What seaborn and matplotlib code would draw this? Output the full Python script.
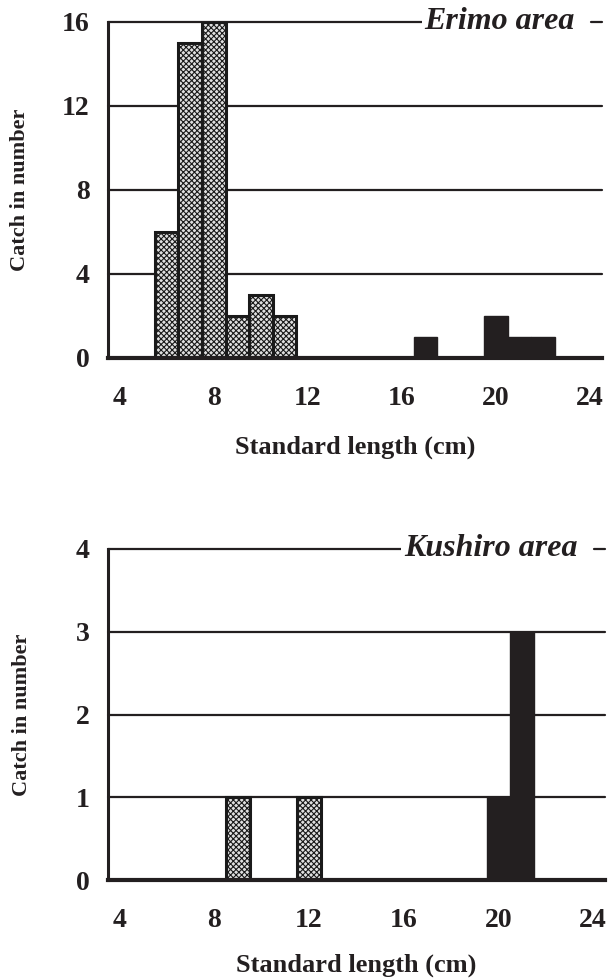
import numpy as np
import pandas as pd
import matplotlib
matplotlib.use("Agg")
import matplotlib.pyplot as plt
import seaborn as sns

# size classes on the x axis (cm)
LENGTHS = list(range(4, 25))
TICK_LABELS = ["4", "8", "12", "16", "20", "24"]

# Erimo area
erimo_small_len = [6, 7, 8, 9, 10, 11]
erimo_small_n = [6, 15, 16, 2, 3, 2]
erimo_large_len = [17, 20, 21, 22]
erimo_large_n = [1, 2, 1, 1]

# Kushiro area
kushiro_small_len = [9, 12]
kushiro_small_n = [1, 1]
kushiro_large_len = [20, 21]
kushiro_large_n = [1, 3]

sns.set_theme(style="white")
plt.rcParams['font.family'] = ['Liberation Serif', 'DejaVu Serif']
plt.rcParams['font.weight'] = 'bold'
plt.rcParams['hatch.color'] = '#333333'
plt.rcParams['hatch.linewidth'] = 0.8

fig = plt.figure(figsize=(6.13, 9.8), dpi=100)
ax1 = fig.add_axes([0.176, 0.6347, 0.806, 0.3429])
ax2 = fig.add_axes([0.176, 0.102, 0.811, 0.3378])


def panel(ax, s_len, s_n, l_len, l_n, yticks, title, ylab_x, xlab_y):
    small = pd.DataFrame({"length": s_len, "n": s_n})
    large = pd.DataFrame({"length": l_len, "n": l_n})
    n0 = len(ax.patches)
    sns.barplot(data=small, x="length", y="n", order=LENGTHS, color="#e0e0e0",
                width=1.0, edgecolor="#1a1a1a", linewidth=2.2, ax=ax,
                saturation=1, zorder=3)
    for p in ax.patches[n0:]:
        p.set_hatch("xxxxxx")
    sns.barplot(data=large, x="length", y="n", order=LENGTHS, color="#231f20",
                width=1.0, edgecolor="#231f20", linewidth=1.0, ax=ax,
                saturation=1, zorder=3)
    ax.set_xlim(-0.5, len(LENGTHS) - 0.5)
    ax.set_ylim(0, yticks[-1])
    ax.set_xticks([LENGTHS.index(int(t)) for t in TICK_LABELS])
    ax.set_xticklabels(TICK_LABELS)
    ax.set_yticks(yticks)
    ax.set_yticklabels([str(t) for t in yticks])
    ax.tick_params(axis="both", length=0, labelsize=20, colors="#231f20")
    ax.tick_params(axis="x", pad=20)
    ax.tick_params(axis="y", pad=13)
    for t in yticks[1:-1]:
        ax.axhline(t, color="#231f20", lw=1.6, zorder=1, clip_on=False)
    # top gridline is broken by the area label, with a short stub after it
    ax.axhline(yticks[-1], xmax=0.9, color="#231f20", lw=1.6, zorder=1, clip_on=False)
    ax.axhline(yticks[-1], xmin=0.977, color="#231f20", lw=1.6, zorder=1, clip_on=False)
    for s in ["top", "right"]:
        ax.spines[s].set_visible(False)
    ax.spines["left"].set_color("#231f20")
    ax.spines["left"].set_linewidth(2.2)
    ax.spines["bottom"].set_color("#231f20")
    ax.spines["bottom"].set_linewidth(3.0)
    ax.spines["bottom"].set_zorder(4)
    ax.set_xlabel("Standard length (cm)", fontsize=19, fontweight="bold",
                  color="#231f20")
    ax.xaxis.set_label_coords(0.5, xlab_y)
    ax.xaxis.label.set_va("center")
    ax.set_ylabel("Catch in number", fontsize=16, fontweight="bold",
                  color="#231f20")
    ax.yaxis.set_label_coords(ylab_x, 0.5)
    ax.yaxis.label.set_va("center")
    ax.text(0.945, 1.0, title, transform=ax.transAxes, ha="right", va="center",
            fontsize=23, fontstyle="italic", fontweight="bold", color="#231f20",
            bbox=dict(facecolor="white", edgecolor="none", pad=2.0), zorder=5)


panel(ax1, erimo_small_len, erimo_small_n, erimo_large_len, erimo_large_n,
      [0, 4, 8, 12, 16], "Erimo area", -0.178, -0.265)
panel(ax2, kushiro_small_len, kushiro_small_n, kushiro_large_len, kushiro_large_n,
      [0, 1, 2, 3, 4], "Kushiro area", -0.173, -0.257)

fig.savefig("out.png", dpi=100)
